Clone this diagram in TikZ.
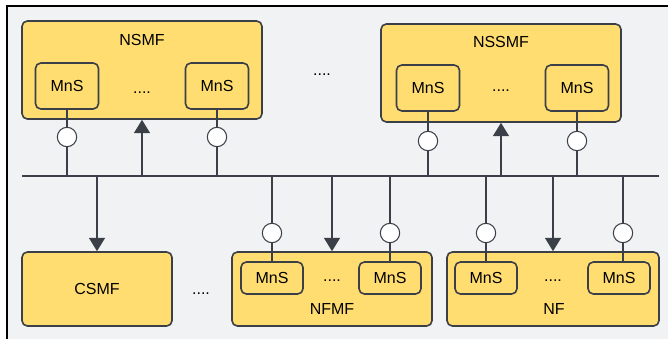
\documentclass[tikz,border=0pt]{standalone}
\usepackage{fontspec}
\setmainfont{Liberation Sans}
\usetikzlibrary{arrows.meta}
\definecolor{panel}{HTML}{F1F2F4}
\definecolor{fnfill}{HTML}{FFDD71}
\definecolor{edge}{HTML}{3B4048}

\begin{document}
\begin{tikzpicture}[x=0.75pt,y=-0.75pt,
  fbox/.style={draw=edge, line width=1.2pt, fill=fnfill, rounded corners=4pt, inner sep=0pt},
  mns/.style={fbox, minimum width=47.25pt, minimum height=34.5pt},
  smns/.style={fbox, minimum width=46.5pt, minimum height=24pt},
  port/.style={draw=edge, circle, fill=white, line width=0.8pt, minimum size=14.5pt, inner sep=0pt},
  link/.style={draw=edge, line width=1pt},
  arr/.style={link, -{Triangle[width=12pt,length=10pt]}},
  font=\fontsize{12}{14}\selectfont]
\path[use as bounding box] (0,0) rectangle (668,339);
\path[draw=black, line width=1.5pt, fill=panel] (7,6) rectangle (700,370);

\node[fbox, minimum width=180pt, minimum height=73.5pt] (nsmf) at (142,70) {};
\node at (142,40) {NSMF};
\node[mns] (m1) at (67,86) {MnS};
\node[mns] (m2) at (217,86) {MnS};
\node at (142,93) {....};
\node[port] (p1) at (67,137) {};
\node[port] (p2) at (217,137) {};

\node at (322,75) {....};

\node[fbox, minimum width=180pt, minimum height=73.5pt] (nssmf) at (501,73) {};
\node at (501,42) {NSSMF};
\node[mns] (m3) at (428,88) {MnS};
\node[mns] (m4) at (577,88) {MnS};
\node at (501,91) {....};
\node[port] (p3) at (428,141) {};
\node[port] (p4) at (577,141) {};

\coordinate (busL) at (22,176);
\coordinate (busR) at (659,176);
\path[link] (busL) -- (busR);

\path[link] (m1) -- (p1) -- (p1 |- busL);
\path[link] (m2) -- (p2) -- (p2 |- busL);
\path[link] (m3) -- (p3) -- (p3 |- busL);
\path[link] (m4) -- (p4) -- (p4 |- busL);
\path[arr] (nsmf.south |- busL) -- (nsmf.south);
\path[arr] (nssmf.south |- busL) -- (nssmf.south);

\node[fbox, minimum width=112.5pt, minimum height=55.5pt] (csmf) at (97,289) {CSMF};
\node at (201,294) {....};

\node[fbox, minimum width=150pt, minimum height=55.5pt] (nfmf) at (332,289) {};
\node at (332,309) {NFMF};
\node[smns] (m5) at (272,278) {MnS};
\node[smns] (m6) at (390,278) {MnS};
\node at (332,281) {....};
\node[port] (p5) at (272,233) {};
\node[port] (p6) at (390,233) {};

\node[fbox, minimum width=159pt, minimum height=55.5pt] (nf) at (553,289) {};
\node at (554,309) {NF};
\node[smns] (m7) at (486,278) {MnS};
\node[smns] (m8) at (619,278) {MnS};
\node at (553,281) {....};
\node[port] (p7) at (486,233) {};
\node[port] (p8) at (623,233) {};

\path[link] (p5 |- busL) -- (p5) -- (p5 |- m5.north);
\path[link] (p6 |- busL) -- (p6) -- (p6 |- m6.north);
\path[link] (p7 |- busL) -- (p7) -- (p7 |- m7.north);
\path[link] (p8 |- busL) -- (p8) -- (p8 |- m8.north);
\path[arr] (csmf.north |- busL) -- (csmf.north);
\path[arr] (nfmf.north |- busL) -- (nfmf.north);
\path[arr] (nf.north |- busL) -- (nf.north);
\end{tikzpicture}
\end{document}
